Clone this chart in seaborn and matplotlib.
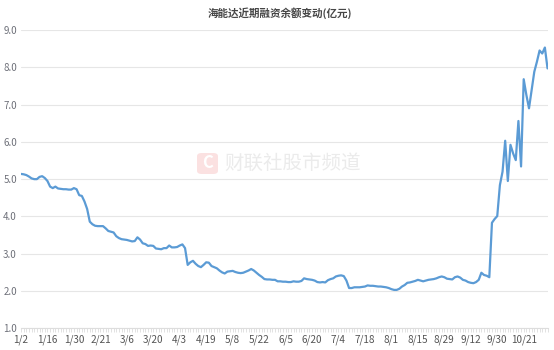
import numpy as np
import pandas as pd
import matplotlib
matplotlib.use("Agg")
import matplotlib.pyplot as plt
from matplotlib.patches import FancyBboxPatch
import seaborn as sns

title = "海能达近期融资余额变动(亿元)"
tick_labels = ["1/2", "1/16", "1/30", "2/21", "3/6", "3/20", "4/3", "4/19", "5/8", "5/22",
               "6/5", "6/20", "7/4", "7/18", "8/1", "8/15", "8/29", "9/12", "9/30", "10/21"]

balance = [
    5.14, 5.13, 5.11, 5.07, 5.02, 5.00, 5.00, 5.06, 5.08, 5.03,
    4.95, 4.80, 4.76, 4.80, 4.75, 4.74, 4.73, 4.73, 4.72, 4.72,
    4.76, 4.73, 4.57, 4.55, 4.40, 4.20, 3.86, 3.79, 3.75, 3.74,
    3.74, 3.74, 3.68, 3.61, 3.59, 3.57, 3.47, 3.42, 3.39, 3.38,
    3.37, 3.35, 3.33, 3.34, 3.44, 3.38, 3.28, 3.26, 3.21, 3.22,
    3.21, 3.14, 3.13, 3.12, 3.15, 3.15, 3.22, 3.17, 3.17, 3.18,
    3.22, 3.25, 3.15, 2.70, 2.77, 2.81, 2.73, 2.67, 2.64, 2.70,
    2.77, 2.76, 2.67, 2.64, 2.61, 2.55, 2.50, 2.47, 2.52, 2.53,
    2.54, 2.51, 2.49, 2.48, 2.49, 2.52, 2.55, 2.59, 2.55, 2.49,
    2.43, 2.38, 2.32, 2.31, 2.31, 2.30, 2.30, 2.26, 2.26, 2.25,
    2.25, 2.24, 2.24, 2.26, 2.25, 2.25, 2.27, 2.34, 2.32, 2.31,
    2.30, 2.28, 2.24, 2.23, 2.24, 2.23, 2.29, 2.32, 2.34, 2.39,
    2.41, 2.42, 2.40, 2.28, 2.08, 2.08, 2.10, 2.10, 2.10, 2.11,
    2.12, 2.15, 2.14, 2.14, 2.13, 2.12, 2.12, 2.11, 2.10, 2.08,
    2.05, 2.03, 2.03, 2.06, 2.12, 2.16, 2.22, 2.23, 2.25, 2.27,
    2.30, 2.28, 2.26, 2.28, 2.30, 2.31, 2.32, 2.34, 2.37, 2.39,
    2.37, 2.33, 2.32, 2.31, 2.37, 2.39, 2.36, 2.30, 2.28, 2.24,
    2.22, 2.21, 2.24, 2.30, 2.49, 2.43, 2.41, 2.37, 3.83, 3.93,
    4.01, 4.84, 5.20, 6.03, 4.95, 5.92, 5.69, 5.51, 6.56, 5.34,
    7.68, 7.26, 6.90, 7.39, 7.88, 8.15, 8.45, 8.37, 8.53, 7.97,
]

sns.set_theme(style="white")
plt.rcParams['font.family'] = ['Noto Sans CJK SC', 'DejaVu Sans']

df = pd.DataFrame({"idx": np.arange(len(balance)), "value": balance})

fig = plt.figure(figsize=(5.54, 3.5), dpi=100)
ax = fig.add_axes([0.0379, 0.062, 0.9504, 0.8523])

# watermark (behind the data)
logo = FancyBboxPatch((197 / 554, 1 - 174 / 350), 21 / 554, 21 / 350,
                      boxstyle="round,pad=0,rounding_size=0.009",
                      transform=fig.transFigure, facecolor="#fbe1e1",
                      edgecolor="none", zorder=0)
fig.patches.append(logo)
fig.text(207.5 / 554, 1 - 163.5 / 350, "C", ha="center", va="center",
         fontsize=12, fontweight="bold", color="white", zorder=1)
fig.text(224 / 554, 1 - 163 / 350, "财联社股市频道", ha="left", va="center",
         fontsize=14, color="#ebebeb", zorder=1)
ax.set_facecolor("none")

sns.lineplot(data=df, x="idx", y="value", ax=ax, color="#5b9bd5", linewidth=1.6)

ax.set_xlim(0, len(balance) - 1)
ax.set_ylim(1, 9)
ax.set_yticks(np.arange(1, 10, 1))
ax.set_yticklabels([f"{v:.1f}" for v in np.arange(1, 10, 1)])
ax.grid(axis="y", color="#e6e6e6", linewidth=0.8)
ax.grid(axis="x", visible=False)

ax.set_xticks(np.arange(0, len(balance), 10)[:len(tick_labels)])
ax.set_xticklabels(tick_labels)
ax.set_xticks(np.arange(0, len(balance)), minor=True)
ax.tick_params(axis="x", which="both", direction="out", length=3, width=0.5,
               color="#d6d6d6", labelsize=7.2, labelcolor="#555555", pad=1.5, bottom=True)
ax.tick_params(axis="y", length=0, labelsize=7, labelcolor="#6e7079", pad=3)

for s in ["top", "right", "left"]:
    ax.spines[s].set_visible(False)
ax.spines["bottom"].set_color("#dddddd")
ax.spines["bottom"].set_linewidth(0.8)
ax.set_xlabel("")
ax.set_ylabel("")

fig.text(0.505, 0.962, title, ha="center", va="center", fontsize=7.6,
         fontweight="bold", color="#464646")

fig.savefig("out.png", dpi=100)
